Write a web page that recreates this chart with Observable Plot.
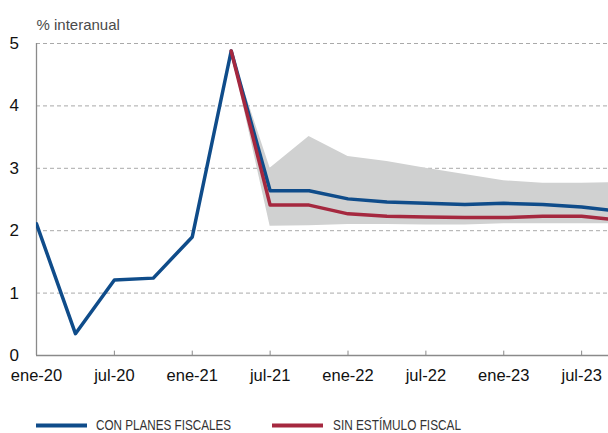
<!DOCTYPE html>
<html>
<head>
<meta charset="utf-8">
<script src="https://cdn.jsdelivr.net/npm/d3@7"></script>
<script src="https://cdn.jsdelivr.net/npm/@observablehq/plot@0.6"></script>
<style>
  body { margin: 0; background: #fff; font-family: "Liberation Sans", Arial, sans-serif; }
  #wrap { position: relative; width: 608px; height: 433px; overflow: hidden; }
  #legend { position: absolute; left: 0; top: 395px; }
</style>
</head>
<body>
<div id="wrap">
  <div id="chart"></div>
  <svg id="legend" width="608" height="38" font-family="Liberation Sans, Arial, sans-serif">
    <line x1="36" x2="87" y1="30.5" y2="30.5" stroke="#0f4c8a" stroke-width="4"/>
    <text x="96" y="35" font-size="14.5" fill="#333" textLength="135" lengthAdjust="spacingAndGlyphs">CON PLANES FISCALES</text>
    <line x1="272" x2="323" y1="30.5" y2="30.5" stroke="#a5283f" stroke-width="4"/>
    <text x="333" y="35" font-size="14.5" fill="#333" textLength="128" lengthAdjust="spacingAndGlyphs">SIN ESTÍMULO FISCAL</text>
  </svg>
</div>
<script>
const periods = ["ene-20","abr-20","jul-20","oct-20","ene-21","abr-21","jul-21","oct-21","ene-22","abr-22","jul-22","oct-22","ene-23","abr-23","jul-23","oct-23"];
const conPlanes   = [2.11, 0.35, 1.21, 1.24, 1.90, 4.88, 2.64, 2.64, 2.51, 2.46, 2.44, 2.42, 2.44, 2.42, 2.38, 2.31];
const sinEstimulo = [null, null, null, null, null, 4.88, 2.41, 2.41, 2.27, 2.23, 2.22, 2.21, 2.21, 2.23, 2.23, 2.17];
const bandHigh    = [null, null, null, null, null, 4.88, 3.00, 3.51, 3.19, 3.11, 3.00, 2.90, 2.80, 2.76, 2.76, 2.77];
const bandLow     = [null, null, null, null, null, 4.88, 2.07, 2.08, 2.10, 2.10, 2.09, 2.09, 2.11, 2.11, 2.11, 2.11];
const xTickIdx = [0, 2, 4, 6, 8, 10, 12, 14];
const yTicks = [0, 1, 2, 3, 4, 5];

const rows = periods.map((p, i) => ({i, p, con: conPlanes[i], sin: sinEstimulo[i], hi: bandHigh[i], lo: bandLow[i]}));
const bandRows = rows.filter(d => d.hi != null);
const sinRows = rows.filter(d => d.sin != null);

const chart = Plot.plot({
  width: 608,
  height: 395,
  marginTop: 43,
  marginBottom: 40,
  marginLeft: 36,
  marginRight: 0,
  style: {fontFamily: "Liberation Sans, Arial, sans-serif", color: "#111", background: "#fff"},
  x: {type: "linear", domain: [0, 14.69]},
  y: {domain: [0, 5]},
  marks: [
    Plot.ruleY([1, 2, 3, 4, 5], {stroke: "#a9a9a9", strokeWidth: 1, strokeDasharray: "4,3"}),
    Plot.areaY(bandRows, {x: "i", y1: "lo", y2: "hi", fill: "#d0d1d1", clip: true}),
    Plot.ruleY([0], {stroke: "#8a8a8a", strokeWidth: 1.3}),
    Plot.ruleX([0], {y1: 0, y2: 5, stroke: "#8a8a8a", strokeWidth: 1.3}),
    Plot.ruleX(xTickIdx.slice(1), {x: d => d, y1: 0, y2: 0.07, stroke: "#8a8a8a", strokeWidth: 1}),
    Plot.line(rows, {x: "i", y: "con", stroke: "#0f4c8a", strokeWidth: 3.5, clip: true}),
    Plot.line(sinRows, {x: "i", y: "sin", stroke: "#a5283f", strokeWidth: 3.5, clip: true}),
    Plot.axisX(xTickIdx, {tickSize: 0, tickPadding: 14, fontSize: 16.5, tickFormat: i => periods[i], label: null}),
    Plot.axisY(yTicks, {tickSize: 0, tickPadding: 0, textAnchor: "start", dx: -27, fontSize: 17, tickFormat: d => String(d), label: null}),
    Plot.text(["% interanual"], {frameAnchor: "top-left", textAnchor: "start", dy: -24, fontSize: 15, fill: "#4a4a4a"})
  ]
});
document.getElementById("chart").appendChild(chart);
</script>
</body>
</html>
